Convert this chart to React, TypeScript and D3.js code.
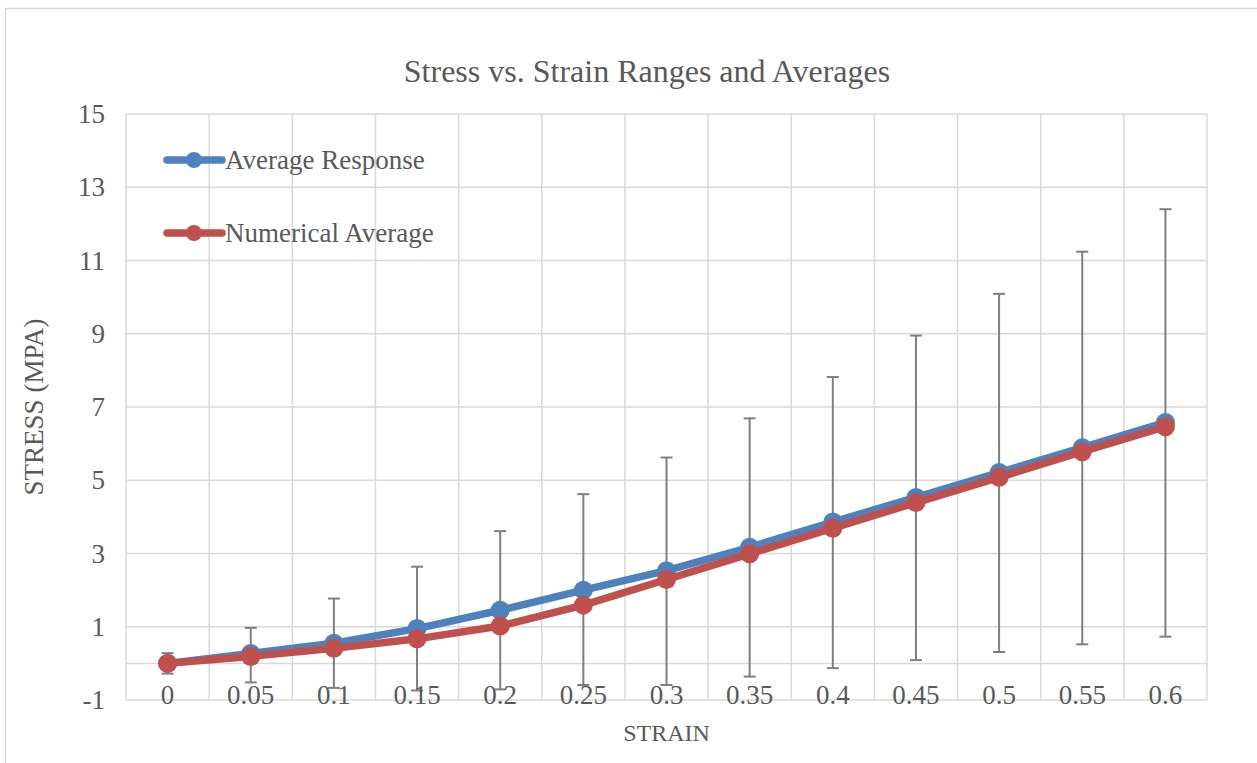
import React from "react";
import * as d3 from "d3";

// Strain categories (x axis)
const strains = ["0", "0.05", "0.1", "0.15", "0.2", "0.25", "0.3", "0.35", "0.4", "0.45", "0.5", "0.55", "0.6"];

// Average response (MPa), with the range of measured responses
const averageResponse = [0.0, 0.27, 0.55, 0.95, 1.45, 2.0, 2.53, 3.17, 3.86, 4.53, 5.21, 5.89, 6.58];
const rangeHigh = [0.28, 0.97, 1.77, 2.64, 3.61, 4.62, 5.62, 6.69, 7.82, 8.95, 10.09, 11.24, 12.4];
const rangeLow = [-0.28, -0.52, -0.67, -0.74, -0.71, -0.59, -0.59, -0.36, -0.13, 0.09, 0.31, 0.52, 0.73];

// Numerical average (MPa)
const numericalAverage = [0.0, 0.19, 0.41, 0.67, 1.02, 1.59, 2.29, 2.99, 3.69, 4.39, 5.08, 5.78, 6.46];

const yTicks = [-1, 1, 3, 5, 7, 9, 11, 13, 15];

const W = 1257;
const H = 763;
const plot = { left: 126, right: 1207, top: 114, bottom: 700 };
const FONT = "'Liberation Serif', 'Times New Roman', serif";
const TEXT = "#595959";
const GRID = "#d9d9d9";
const BLUE = "#4f81bd";
const RED = "#c0504d";

export default function App() {
  const x = d3.scaleBand<string>().domain(strains).range([plot.left, plot.right]).padding(0);
  const y = d3.scaleLinear().domain([-1, 15]).range([plot.bottom, plot.top]);
  const cx = (s: string) => (x(s) ?? 0) + x.bandwidth() / 2;

  const line = d3
    .line<number>()
    .x((_, i) => cx(strains[i]))
    .y((d) => y(d));

  const vLines = strains.map((s) => x(s) ?? 0).concat([plot.right]);

  return (
    <svg
      width={W}
      height={H}
      style={{ position: "absolute", left: 0, top: 0, background: "#fff" }}
      fontFamily={FONT}
    >
      <rect x={5.5} y={8.5} width={1400} height={900} fill="#fff" stroke={GRID} strokeWidth={1.5} />

      {/* gridlines */}
      {yTicks.map((t) => (
        <line key={"h" + t} x1={plot.left} x2={plot.right} y1={y(t)} y2={y(t)} stroke={GRID} strokeWidth={1.5} />
      ))}
      <line x1={plot.left} x2={plot.right} y1={y(0)} y2={y(0)} stroke={GRID} strokeWidth={1.5} />
      {vLines.map((v, i) => (
        <line key={"v" + i} x1={v} x2={v} y1={plot.top} y2={plot.bottom} stroke={GRID} strokeWidth={1.5} />
      ))}

      {/* title */}
      <text x={647} y={82} textAnchor="middle" fontSize={32} fill={TEXT}>
        Stress vs. Strain Ranges and Averages
      </text>

      {/* y tick labels */}
      {yTicks.map((t) => (
        <text key={"yl" + t} x={105} y={y(t) + 9} textAnchor="end" fontSize={27} fill={TEXT}>
          {t}
        </text>
      ))}

      {/* axis titles */}
      <text
        transform={`translate(43,${(plot.top + plot.bottom) / 2}) rotate(-90)`}
        textAnchor="middle"
        fontSize={27}
        fill={TEXT}
      >
        STRESS (MPA)
      </text>
      <text x={(plot.left + plot.right) / 2} y={741} textAnchor="middle" fontSize={24} fill={TEXT}>
        STRAIN
      </text>

      {/* error bars (range of responses) */}
      {strains.map((s, i) => (
        <g key={"e" + i} stroke="#7f7f7f" strokeWidth={2}>
          <line x1={cx(s)} x2={cx(s)} y1={y(rangeHigh[i])} y2={y(rangeLow[i])} />
          <line x1={cx(s) - 6} x2={cx(s) + 6} y1={y(rangeHigh[i])} y2={y(rangeHigh[i])} />
          <line x1={cx(s) - 6} x2={cx(s) + 6} y1={y(rangeLow[i])} y2={y(rangeLow[i])} />
        </g>
      ))}

      {/* x tick labels */}
      {strains.map((s) => (
        <text key={"xl" + s} x={cx(s)} y={704} textAnchor="middle" fontSize={27} fill={TEXT}>
          {s}
        </text>
      ))}

      {/* series */}
      <path d={line(averageResponse) ?? ""} fill="none" stroke={BLUE} strokeWidth={7.5} strokeLinejoin="round" />
      {averageResponse.map((v, i) => (
        <circle key={"b" + i} cx={cx(strains[i])} cy={y(v)} r={9.5} fill={BLUE} />
      ))}
      <path d={line(numericalAverage) ?? ""} fill="none" stroke={RED} strokeWidth={7.5} strokeLinejoin="round" />
      {numericalAverage.map((v, i) => (
        <circle key={"r" + i} cx={cx(strains[i])} cy={y(v)} r={9.5} fill={RED} />
      ))}

      {/* legend */}
      {[
        { label: "Average Response", color: BLUE, ly: 160 },
        { label: "Numerical Average", color: RED, ly: 233 },
      ].map((l) => (
        <g key={l.label}>
          <line x1={167} x2={222} y1={l.ly} y2={l.ly} stroke={l.color} strokeWidth={7.5} strokeLinecap="round" />
          <circle cx={194} cy={l.ly} r={8} fill={l.color} />
          <text x={225} y={l.ly + 9} fontSize={27} fill={TEXT}>
            {l.label}
          </text>
        </g>
      ))}
    </svg>
  );
}
